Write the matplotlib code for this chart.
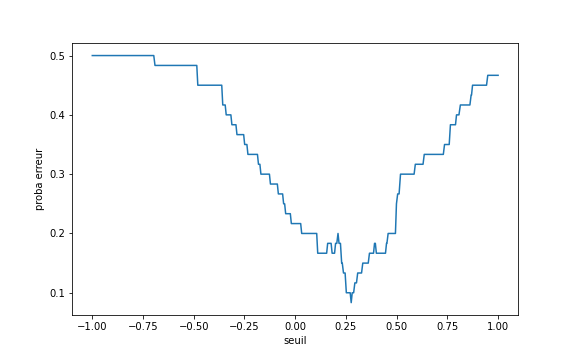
import numpy as np
import matplotlib
matplotlib.use("Agg")
import matplotlib.pyplot as plt

# paliers : début, fin, nombre d'erreurs sur 60
n_total = 60
seuil_debut = [-1.0, -0.691, -0.480, -0.357, -0.340, -0.312, -0.287, -0.249,
               -0.233, -0.181, -0.169, -0.122, -0.083, -0.057, -0.047, -0.019,
               0.032, 0.111, 0.160, 0.182, 0.199, 0.211, 0.216, 0.229,
               0.238, 0.252, 0.276, 0.281, 0.294, 0.308, 0.333, 0.366,
               0.391, 0.400, 0.450, 0.458, 0.499, 0.505, 0.519, 0.592,
               0.636, 0.736, 0.765, 0.795, 0.814, 0.867, 0.874, 0.949]
seuil_fin = [-0.697, -0.485, -0.362, -0.345, -0.317, -0.292, -0.254, -0.238,
             -0.186, -0.174, -0.127, -0.088, -0.062, -0.052, -0.024, 0.027,
             0.106, 0.155, 0.177, 0.194, 0.205, 0.211, 0.223, 0.232,
             0.246, 0.271, 0.276, 0.288, 0.302, 0.327, 0.360, 0.386,
             0.395, 0.445, 0.452, 0.494, 0.499, 0.512, 0.586, 0.630,
             0.730, 0.759, 0.790, 0.807, 0.861, 0.869, 0.943, 1.0]
nb_erreurs = [30, 29, 27, 25, 24, 23, 22, 21,
              20, 19, 18, 17, 16, 15, 14, 13,
              12, 10, 11, 10, 11, 12, 11, 9,
              8, 6, 5, 6, 7, 8, 9, 10,
              11, 10, 11, 12, 15, 16, 18, 19,
              20, 21, 23, 24, 25, 26, 27, 28]

seuils = []
erreurs = []
for d, f, k in zip(seuil_debut, seuil_fin, nb_erreurs):
    p = k / n_total
    seuils.append(d)
    erreurs.append(p)
    if f != d:
        seuils.append(f)
        erreurs.append(p)
seuils = np.array(seuils)
erreurs = np.array(erreurs)

fig = plt.figure(figsize=(8, 5), dpi=72)
plt.subplots_adjust(left=0.125, right=0.9, top=0.88, bottom=0.125)
plt.plot(seuils, erreurs)
plt.xlabel("seuil")
plt.ylabel("proba erreur")
plt.savefig("out.png", dpi=72)
plt.close()
